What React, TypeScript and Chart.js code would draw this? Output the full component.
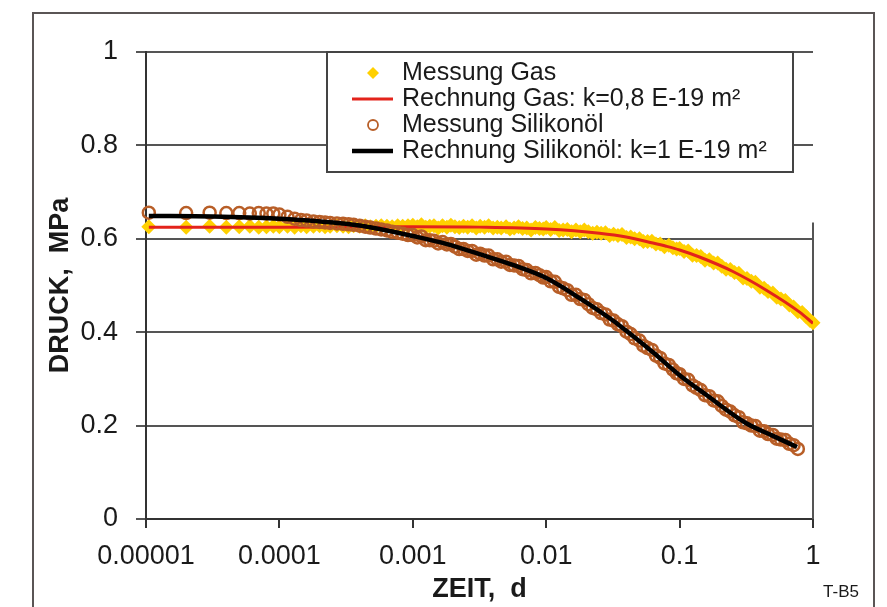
import React, { useEffect, useRef } from "react";
import { Chart, registerables } from "chart.js";

Chart.register(...registerables);

// ---------- data ----------
const xTickValues = [1e-5, 1e-4, 1e-3, 1e-2, 1e-1, 1];
const xTickLabels = ["0.00001", "0.0001", "0.001", "0.01", "0.1", "1"];
const yTickLabels = ["0", "0.2", "0.4", "0.6", "0.8", "1"];

const seriesLabels = [
  "Messung Gas",
  "Rechnung Gas: k=0,8 E-19 m²",
  "Messung Silikonöl",
  "Rechnung Silikonöl: k=1 E-19 m²",
];

// measurement times, days
const tMeasA = [1.05e-5, 2e-5, 3e-5, 4e-5, 5e-5, 6e-5, 7e-5, 8e-5, 9e-5];
const tMeasB = [
  1e-4, 1.15e-4, 1.3e-4, 1.45e-4, 1.6e-4, 1.8e-4, 2e-4, 2.2e-4, 2.4e-4, 2.7e-4, 3e-4, 3.3e-4,
  3.6e-4, 4e-4, 4.4e-4, 4.8e-4, 5.3e-4, 5.8e-4, 6.4e-4, 7e-4, 7.7e-4, 8.4e-4, 9.2e-4,
];
const tMeasC = [
  0.001, 0.00108, 0.00116, 0.00125, 0.00134, 0.00144, 0.00155, 0.00167, 0.0018, 0.00193, 0.00207,
  0.00223, 0.0024, 0.00258, 0.00278, 0.00299, 0.0032, 0.00345, 0.0037, 0.004, 0.0043, 0.0046,
  0.005, 0.00535, 0.00575, 0.0062, 0.00665, 0.00715, 0.0077, 0.0083, 0.0089, 0.0095,
];
const tMeasD = [
  0.01, 0.0108, 0.0116, 0.0125, 0.0134, 0.0144, 0.0155, 0.0167, 0.018, 0.0193, 0.0207,
  0.0223, 0.024, 0.0258, 0.0278, 0.0299, 0.032, 0.0345, 0.037, 0.04, 0.043, 0.046,
  0.05, 0.0535, 0.0575, 0.062, 0.0665, 0.0715, 0.077, 0.083, 0.089, 0.095,
];
const tMeasE = [
  0.1, 0.108, 0.116, 0.125, 0.134, 0.144, 0.155, 0.167, 0.18, 0.193, 0.207,
  0.223, 0.24, 0.258, 0.278, 0.299, 0.32, 0.345, 0.37, 0.4, 0.43, 0.46,
  0.5, 0.535, 0.575, 0.62, 0.665, 0.715, 0.77, 0.83, 0.89, 0.95, 1.0,
];

// Messung Gas, MPa
const gasMeasA = [0.626, 0.625, 0.627, 0.625, 0.626, 0.627, 0.625, 0.626, 0.627];
const gasMeasB = [
  0.626, 0.627, 0.625, 0.628, 0.626, 0.627, 0.628, 0.626, 0.627, 0.628, 0.627, 0.626,
  0.628, 0.627, 0.628, 0.626, 0.627, 0.628, 0.627, 0.626, 0.628, 0.627, 0.628,
];
const gasMeasC = [
  0.629, 0.626, 0.63, 0.625, 0.627, 0.628, 0.623, 0.628, 0.625, 0.629, 0.626, 0.624,
  0.627, 0.625, 0.628, 0.623, 0.627, 0.625, 0.628, 0.623, 0.625, 0.623, 0.626, 0.621,
  0.623, 0.626, 0.622, 0.623, 0.619, 0.624, 0.622, 0.621,
];
const gasMeasD = [
  0.624, 0.62, 0.624, 0.618, 0.619, 0.62, 0.615, 0.619, 0.615, 0.619, 0.615, 0.612,
  0.614, 0.612, 0.613, 0.607, 0.61, 0.607, 0.609, 0.603, 0.604, 0.6, 0.6, 0.594,
  0.594, 0.595, 0.589, 0.589, 0.583, 0.586, 0.581, 0.578,
];
const gasMeasE = [
  0.579, 0.573, 0.574, 0.565, 0.564, 0.562, 0.554, 0.555, 0.548, 0.548, 0.541, 0.535,
  0.534, 0.528, 0.526, 0.516, 0.515, 0.509, 0.507, 0.496, 0.494, 0.487, 0.484, 0.475,
  0.471, 0.468, 0.458, 0.454, 0.444, 0.442, 0.433, 0.425, 0.42,
];

// Messung Silikonöl, MPa (ends at 0.77 d)
const silMeasA = [0.656, 0.655, 0.656, 0.655, 0.655, 0.654, 0.655, 0.654, 0.654];
const silMeasB = [
  0.652, 0.647, 0.643, 0.64, 0.639, 0.637, 0.636, 0.635, 0.634, 0.633, 0.632, 0.631,
  0.63, 0.628, 0.626, 0.624, 0.622, 0.62, 0.618, 0.615, 0.613, 0.611, 0.608,
];
const silMeasC = [
  0.608, 0.603, 0.605, 0.597, 0.597, 0.596, 0.59, 0.593, 0.588, 0.589, 0.583, 0.578,
  0.578, 0.574, 0.574, 0.566, 0.568, 0.564, 0.564, 0.556, 0.556, 0.551, 0.551, 0.544,
  0.543, 0.542, 0.535, 0.533, 0.526, 0.527, 0.522, 0.517,
];
const silMeasD = [
  0.518, 0.509, 0.508, 0.497, 0.494, 0.49, 0.48, 0.48, 0.471, 0.469, 0.46, 0.452,
  0.449, 0.441, 0.438, 0.427, 0.425, 0.417, 0.413, 0.401, 0.396, 0.387, 0.382, 0.371,
  0.366, 0.362, 0.35, 0.345, 0.333, 0.33, 0.32, 0.312,
];
const silMeasE = [
  0.31, 0.3, 0.298, 0.286, 0.281, 0.276, 0.265, 0.263, 0.254, 0.252, 0.242, 0.234,
  0.23, 0.222, 0.218, 0.207, 0.205, 0.2, 0.199, 0.189, 0.188, 0.182, 0.18, 0.172,
  0.17, 0.169, 0.161, 0.158, 0.15,
];

// Rechnung Gas
const tGasCalc = [1.05e-5, 1e-4, 1e-3, 0.00316, 0.01, 0.0251, 0.0398, 0.0631, 0.0794, 0.1, 0.141, 0.251, 0.447, 0.794, 1.0];
const gasCalc = [0.625, 0.625, 0.626, 0.625, 0.621, 0.612, 0.604, 0.591, 0.584, 0.576, 0.561, 0.53, 0.49, 0.443, 0.419];

// Rechnung Silikonöl
const tSilCalc = [
  1.05e-5, 3.16e-5, 1e-4, 3.16e-4, 5.62e-4, 1e-3, 0.00178, 0.00316, 0.00562, 0.01,
  0.0178, 0.0316, 0.0398, 0.0631, 0.1, 0.158, 0.316, 0.501, 0.759,
];
const silCalc = [
  0.649, 0.648, 0.643, 0.632, 0.621, 0.606, 0.589, 0.567, 0.544, 0.516,
  0.473, 0.425, 0.403, 0.357, 0.308, 0.266, 0.205, 0.178, 0.154,
];

const FONT = '"Liberation Sans", Arial, Helvetica, sans-serif';

const pts = (xs: number[], ys: number[]) => xs.map((x, i) => ({ x, y: ys[i] }));

const framePlugin = {
  id: "frameDecor",
  beforeDatasetsDraw(chart: any) {
    const { ctx, chartArea, scales } = chart;
    ctx.save();
    ctx.strokeStyle = "#555";
    ctx.lineWidth = 2;
    ctx.beginPath();
    ctx.moveTo(chartArea.right, scales.y.getPixelForValue(0.635));
    ctx.lineTo(chartArea.right, chartArea.bottom);
    ctx.stroke();
    ctx.restore();
  },
  afterDraw(chart: any) {
    const { ctx } = chart;
    ctx.save();
    // outer frame
    ctx.strokeStyle = "#5a5555";
    ctx.lineWidth = 2;
    ctx.beginPath();
    ctx.moveTo(33, 607);
    ctx.lineTo(33, 13);
    ctx.lineTo(874, 13);
    ctx.lineTo(874, 607);
    ctx.stroke();

    // legend box
    const bx = 327, by = 52, bw = 466, bh = 120;
    ctx.fillStyle = "#fff";
    ctx.fillRect(bx, by, bw, bh);
    ctx.strokeStyle = "#444";
    ctx.lineWidth = 2;
    ctx.strokeRect(bx, by, bw, bh);
    ctx.font = `25px ${FONT}`;
    ctx.textBaseline = "middle";
    ctx.textAlign = "left";
    const rows = [73, 99, 125, 151];
    chart.data.datasets.forEach((ds: any, i: number) => {
      const y = rows[i];
      if (ds.pointStyle === "rectRot") {
        ctx.fillStyle = ds.backgroundColor;
        ctx.beginPath();
        ctx.moveTo(373, y - 6);
        ctx.lineTo(379, y);
        ctx.lineTo(373, y + 6);
        ctx.lineTo(367, y);
        ctx.closePath();
        ctx.fill();
      } else if (ds.pointStyle === "circle" && ds.pointRadius > 0) {
        ctx.strokeStyle = ds.borderColor;
        ctx.lineWidth = 1.8;
        ctx.beginPath();
        ctx.arc(373, y, 5, 0, Math.PI * 2);
        ctx.stroke();
      } else {
        ctx.strokeStyle = ds.borderColor;
        ctx.lineWidth = ds.borderWidth;
        ctx.beginPath();
        ctx.moveTo(352, y);
        ctx.lineTo(393, y);
        ctx.stroke();
      }
      ctx.fillStyle = "#1a1a1a";
      ctx.fillText(ds.label, 402, y);
    });

    // figure tag
    ctx.font = `17px ${FONT}`;
    ctx.textAlign = "center";
    ctx.fillStyle = "#1a1a1a";
    ctx.fillText("T-B5", 841, 592);
    ctx.restore();
  },
};

export default function App() {
  const ref = useRef<HTMLCanvasElement | null>(null);

  useEffect(() => {
    if (!ref.current) return;
    const tGasMeas = [...tMeasA, ...tMeasB, ...tMeasC, ...tMeasD, ...tMeasE];
    const gasMeas = [...gasMeasA, ...gasMeasB, ...gasMeasC, ...gasMeasD, ...gasMeasE];
    const silMeas = [...silMeasA, ...silMeasB, ...silMeasC, ...silMeasD, ...silMeasE];
    const tSilMeas = tGasMeas.slice(0, silMeas.length);

    const chart = new Chart(ref.current, {
      type: "scatter",
      data: {
        datasets: [
          {
            label: seriesLabels[0],
            data: pts(tGasMeas, gasMeas),
            pointStyle: "rectRot",
            pointRadius: 7.5,
            backgroundColor: "#FFD000",
            borderColor: "#FFD000",
            borderWidth: 0,
            showLine: false,
            order: 4,
            clip: false,
          },
          {
            label: seriesLabels[1],
            data: pts(tGasCalc, gasCalc),
            showLine: true,
            pointRadius: 0,
            pointStyle: "line",
            borderColor: "#E3231B",
            backgroundColor: "#E3231B",
            borderWidth: 3,
            cubicInterpolationMode: "monotone",
            order: 3,
          },
          {
            label: seriesLabels[2],
            data: pts(tSilMeas, silMeas),
            pointStyle: "circle",
            pointRadius: 6,
            backgroundColor: "rgba(255,255,255,0)",
            borderColor: "#B85E27",
            borderWidth: 2.5,
            showLine: false,
            order: 2,
            clip: false,
          },
          {
            label: seriesLabels[3],
            data: pts(tSilCalc, silCalc),
            showLine: true,
            pointRadius: 0,
            pointStyle: "line",
            borderColor: "#000000",
            backgroundColor: "#000000",
            borderWidth: 4.5,
            cubicInterpolationMode: "monotone",
            order: 1,
          },
        ],
      },
      options: {
        animation: false,
        responsive: false,
        devicePixelRatio: 1,
        layout: { padding: { left: 0, right: 74, top: 52, bottom: 0 } },
        plugins: { legend: { display: false }, tooltip: { enabled: false } },
        scales: {
          x: {
            type: "logarithmic",
            min: 1e-5,
            max: 1,
            afterBuildTicks: (scale: any) => {
              scale.ticks = xTickValues.map((v) => ({ value: v }));
            },
            afterFit: (scale: any) => {
              scale.height = 88;
            },
            ticks: {
              autoSkip: false,
              maxRotation: 0,
              padding: 12,
              color: "#1a1a1a",
              font: { size: 27, family: FONT },
              callback: (_v: any, i: number) => xTickLabels[i],
            },
            grid: {
              drawOnChartArea: false,
              drawTicks: true,
              tickLength: 9,
              color: "#333",
              lineWidth: 2,
            },
            border: { display: true, color: "#333", width: 2 },
            title: {
              display: true,
              text: "ZEIT,  d",
              color: "#1a1a1a",
              font: { size: 27, weight: "bold", family: FONT },
              padding: { top: 0, bottom: 1 },
            },
          },
          y: {
            type: "linear",
            min: 0,
            max: 1,
            afterFit: (scale: any) => {
              scale.width = 146;
            },
            ticks: {
              stepSize: 0.2,
              padding: 18,
              color: "#1a1a1a",
              font: { size: 27, family: FONT },
              callback: (_v: any, i: number) => yTickLabels[i],
            },
            grid: {
              color: "#555",
              lineWidth: 2,
              tickLength: 10,
            },
            border: { display: true, color: "#333", width: 2 },
            title: {
              display: true,
              text: "DRUCK,  MPa",
              color: "#1a1a1a",
              font: { size: 27, weight: "bold", family: FONT },
              padding: { top: 44, bottom: 0 },
            },
          },
        },
      },
      plugins: [framePlugin],
    } as any);
    return () => chart.destroy();
  }, []);

  return (
    <div style={{ position: "fixed", left: 0, top: 0, width: 887, height: 607, background: "#fff" }}>
      <canvas ref={ref} width={887} height={607} style={{ display: "block", width: 887, height: 607 }} />
    </div>
  );
}
